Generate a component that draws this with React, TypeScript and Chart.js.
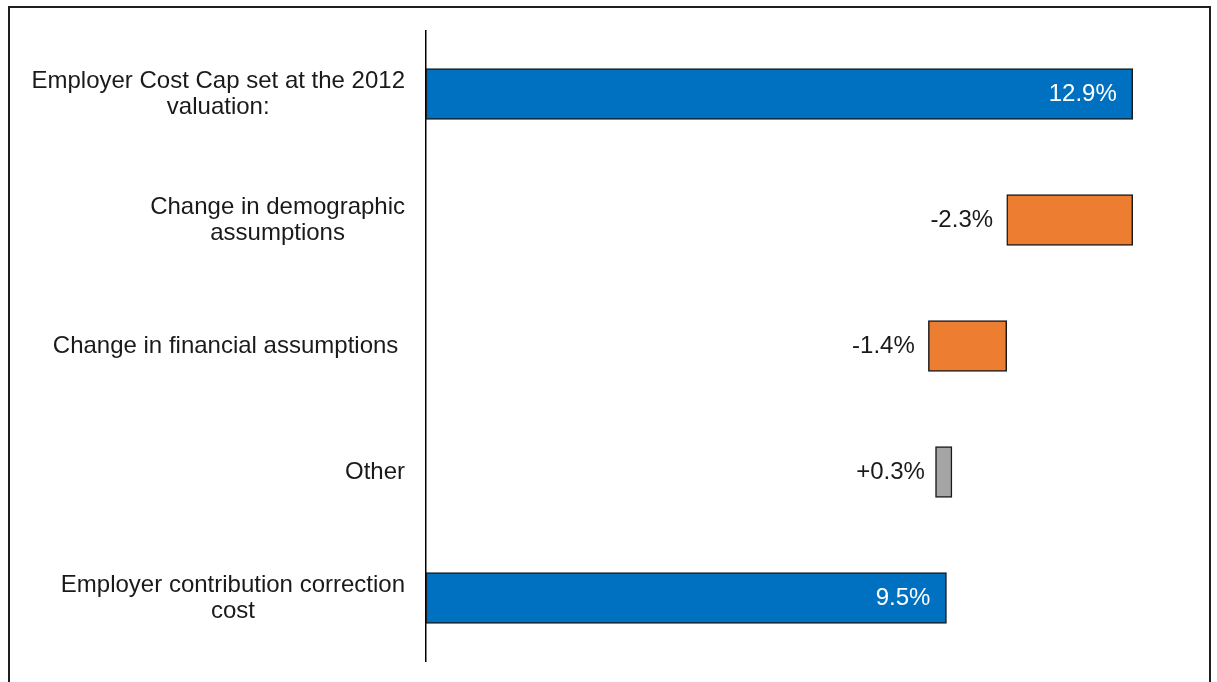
import React, { useEffect, useRef } from "react";
import { Chart, registerables } from "chart.js";

Chart.register(...registerables);

const categories: string[][] = [
  ["Employer Cost Cap set at the 2012", "valuation:"],
  ["Change in demographic", "assumptions"],
  ["Change in financial assumptions "],
  ["Other"],
  ["Employer contribution correction", "cost"],
];
// floating bar ranges (percent)
const barStarts: number[] = [0, 10.6, 9.17, 9.3, 0];
const barEnds: number[] = [12.9, 12.9, 10.6, 9.6, 9.5];
const isTotal: boolean[] = [true, false, false, false, true];
const valueLabels: string[] = ["12.9%", "-2.3%", "-1.4%", "+0.3%", "9.5%"];
const barColors: string[] = ["#0070C0", "#ED7D31", "#ED7D31", "#A5A5A5", "#0070C0"];

const FONT = '"Liberation Sans", Arial, sans-serif';

const labelPlugin = {
  id: "customLabels",
  afterDatasetsDraw(chart: any) {
    const ctx = chart.ctx;
    const meta = chart.getDatasetMeta(0);
    ctx.save();
    ctx.font = `24px ${FONT}`;
    ctx.textBaseline = "middle";
    meta.data.forEach((el: any, i: number) => {
      const left = Math.min(el.x, el.base);
      const right = Math.max(el.x, el.base);
      if (isTotal[i]) {
        ctx.fillStyle = "#ffffff";
        ctx.textAlign = "right";
        ctx.fillText(valueLabels[i], right - 16, el.y);
      } else {
        ctx.fillStyle = "#1a1a1a";
        ctx.textAlign = "center";
        ctx.fillText(valueLabels[i], left - 45, el.y);
      }
    });
    // category labels
    const yScale = chart.scales.y;
    const rightEdge = chart.chartArea.left - 21;
    const lineH = 26;
    ctx.fillStyle = "#1a1a1a";
    ctx.textAlign = "center";
    categories.forEach((lines, i) => {
      const cy = yScale.getPixelForValue(i);
      const maxW = Math.max(...lines.map((l) => ctx.measureText(l).width));
      const cx = rightEdge - maxW / 2;
      const startY = cy - ((lines.length - 1) * lineH) / 2;
      lines.forEach((l, j) => {
        ctx.fillText(l, cx, startY + j * lineH);
      });
    });
    ctx.restore();
  },
};

export default function App() {
  const canvasRef = useRef<HTMLCanvasElement | null>(null);

  useEffect(() => {
    if (!canvasRef.current) return;
    const chart = new Chart(canvasRef.current, {
      type: "bar",
      data: {
        labels: categories.map((c) => c.join(" ")),
        datasets: [
          {
            data: barStarts.map((s, i) => [s, barEnds[i]]) as any,
            backgroundColor: barColors,
            borderColor: "#1a1a1a",
            borderWidth: 1.5,
            borderSkipped: false,
            barThickness: 51,
          },
        ],
      },
      options: {
        indexAxis: "y",
        responsive: false,
        animation: false,
        layout: { padding: { left: 0, top: 31, right: 24, bottom: 21 } },
        plugins: {
          legend: { display: false },
          tooltip: { enabled: false },
        },
        scales: {
          x: {
            display: false,
            min: 0,
            max: 14,
          },
          y: {
            display: true,
            ticks: { display: false },
            grid: { display: false, drawTicks: false },
            border: { display: true, color: "#000000", width: 1.5 },
            afterFit: (scale: any) => {
              scale.width = 426;
            },
          },
        },
      },
      plugins: [labelPlugin],
    });
    return () => chart.destroy();
  }, []);

  return (
    <>
      <div
        style={{
          position: "fixed",
          left: 8,
          top: 6,
          width: 1199,
          height: 720,
          border: "2px solid #1e1e1e",
          boxSizing: "content-box",
          background: "#fff",
        }}
      />
      <canvas
        ref={canvasRef}
        width={1217}
        height={682}
        style={{ position: "fixed", left: 0, top: 0, width: 1217, height: 682 }}
      />
    </>
  );
}
